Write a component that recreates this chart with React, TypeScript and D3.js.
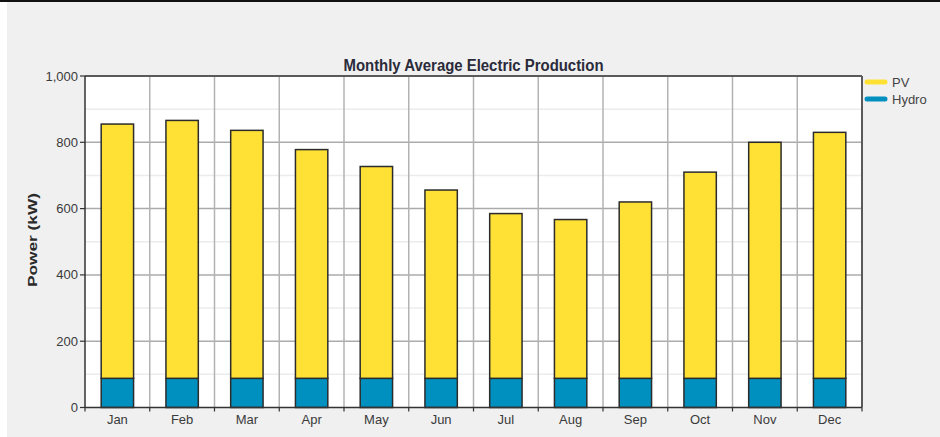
import * as d3 from "d3";

const months = ["Jan", "Feb", "Mar", "Apr", "May", "Jun", "Jul", "Aug", "Sep", "Oct", "Nov", "Dec"];
const hydro = [88, 88, 88, 88, 88, 88, 88, 88, 88, 88, 88, 88];
const pv = [767, 778, 748, 690, 639, 568, 497, 479, 532, 622, 712, 742];
const yTicks = [0, 200, 400, 600, 800, 1000];
const yMinor = [100, 300, 500, 700, 900];
const seriesNames = ["PV", "Hydro"];

const WIDTH = 940;
const HEIGHT = 437;
const PLOT = { left: 85, right: 862, top: 76, bottom: 407.5 };

const colors = { PV: "#ffe135", Hydro: "#0090bf" };
const FONT = "'Liberation Sans', Arial, sans-serif";

export default function App() {
  const x = d3
    .scaleBand<string>()
    .domain(months)
    .range([PLOT.left, PLOT.right])
    .paddingInner(0.5)
    .paddingOuter(0.25);
  const y = d3.scaleLinear().domain([0, 1000]).range([PLOT.bottom, PLOT.top]);

  const step = x.step();
  // category boundaries for vertical grid and x ticks
  const bounds = d3.range(months.length + 1).map((i) => PLOT.left + i * step);

  const rows = months.map((m, i) => ({ month: m, hydro: hydro[i], pv: pv[i] }));
  const stacked = d3.stack<any>().keys(["hydro", "pv"])(rows);
  const fills = [colors.Hydro, colors.PV];

  return (
    <div style={{ position: "absolute", left: 0, top: 0 }}>
      <svg width={WIDTH} height={HEIGHT} style={{ display: "block", fontFamily: FONT }}>
        <rect x={0} y={0} width={WIDTH} height={HEIGHT} fill="#fff" />
        <rect x={7} y={2} width={WIDTH - 7} height={HEIGHT - 2} fill="#f0f0f0" />
        <rect x={0} y={0} width={WIDTH} height={2} fill="#111" />

        <text
          x={(PLOT.left + PLOT.right) / 2}
          y={71}
          textAnchor="middle"
          fontSize={16}
          fontWeight="bold"
          fill="#2a2a3a"
          textLength={260}
          lengthAdjust="spacingAndGlyphs"
        >
          Monthly Average Electric Production
        </text>

        {/* plot background */}
        <rect
          x={PLOT.left}
          y={PLOT.top}
          width={PLOT.right - PLOT.left}
          height={PLOT.bottom - PLOT.top}
          fill="#fff"
        />

        {yMinor.map((v) => (
          <line key={"m" + v} x1={PLOT.left} x2={PLOT.right} y1={y(v)} y2={y(v)} stroke="#ececec" strokeWidth={1.5} />
        ))}
        {yTicks.slice(1, -1).map((v) => (
          <line key={"g" + v} x1={PLOT.left} x2={PLOT.right} y1={y(v)} y2={y(v)} stroke="#ababab" strokeWidth={1.5} />
        ))}
        {bounds.slice(1, -1).map((b, i) => (
          <line key={"v" + i} x1={b} x2={b} y1={PLOT.top} y2={PLOT.bottom} stroke="#b3b3b3" strokeWidth={1.5} />
        ))}

        {stacked.map((layer, li) =>
          layer.map((d, i) => (
            <rect
              key={li + "-" + i}
              x={x(months[i])}
              y={y(d[1])}
              width={x.bandwidth()}
              height={y(d[0]) - y(d[1])}
              fill={fills[li]}
              stroke="#2b2b2b"
              strokeWidth={1.5}
            />
          ))
        )}

        {/* frame */}
        <line x1={PLOT.left} x2={PLOT.right} y1={PLOT.top} y2={PLOT.top} stroke="#5a5a5a" strokeWidth={2} />
        <line x1={PLOT.right} x2={PLOT.right} y1={PLOT.top} y2={PLOT.bottom} stroke="#5a5a5a" strokeWidth={2} />
        <line x1={PLOT.left} x2={PLOT.left} y1={PLOT.top} y2={PLOT.bottom} stroke="#333" strokeWidth={1.5} />
        <line x1={PLOT.left} x2={PLOT.right} y1={PLOT.bottom} y2={PLOT.bottom} stroke="#333" strokeWidth={1.5} />

        {/* y axis */}
        {yTicks.map((v) => (
          <g key={"t" + v}>
            <line x1={PLOT.left - 5} x2={PLOT.left} y1={y(v)} y2={y(v)} stroke="#333" strokeWidth={1.2} />
            <text x={PLOT.left - 7} y={y(v)} dy="0.35em" textAnchor="end" fontSize={13} fill="#3a3a3a">
              {d3.format(",")(v)}
            </text>
          </g>
        ))}
        <text
          transform={`translate(37, 240) rotate(-90)`}
          textAnchor="middle"
          fontSize={12}
          fontWeight="bold"
          fill="#2a2a2a"
          textLength={94}
          lengthAdjust="spacingAndGlyphs"
        >
          Power (kW)
        </text>

        {/* x axis */}
        {bounds.map((b, i) => (
          <line key={"xt" + i} x1={b} x2={b} y1={PLOT.bottom} y2={PLOT.bottom + 4} stroke="#333" strokeWidth={1.2} />
        ))}
        {months.map((m) => (
          <text key={m} x={x(m)! + x.bandwidth() / 2} y={424} textAnchor="middle" fontSize={13} fill="#3a3a3a">
            {m}
          </text>
        ))}

        {/* legend */}
        {seriesNames.map((s, i) => (
          <g key={s} transform={`translate(867, ${82 + i * 17})`}>
            <line x1={0} x2={18} y1={0} y2={0} stroke={colors[s as "PV" | "Hydro"]} strokeWidth={5} strokeLinecap="round" />
            <text x={25} y={0} dy="0.35em" fontSize={13} fill="#444">
              {s}
            </text>
          </g>
        ))}
      </svg>
    </div>
  );
}
